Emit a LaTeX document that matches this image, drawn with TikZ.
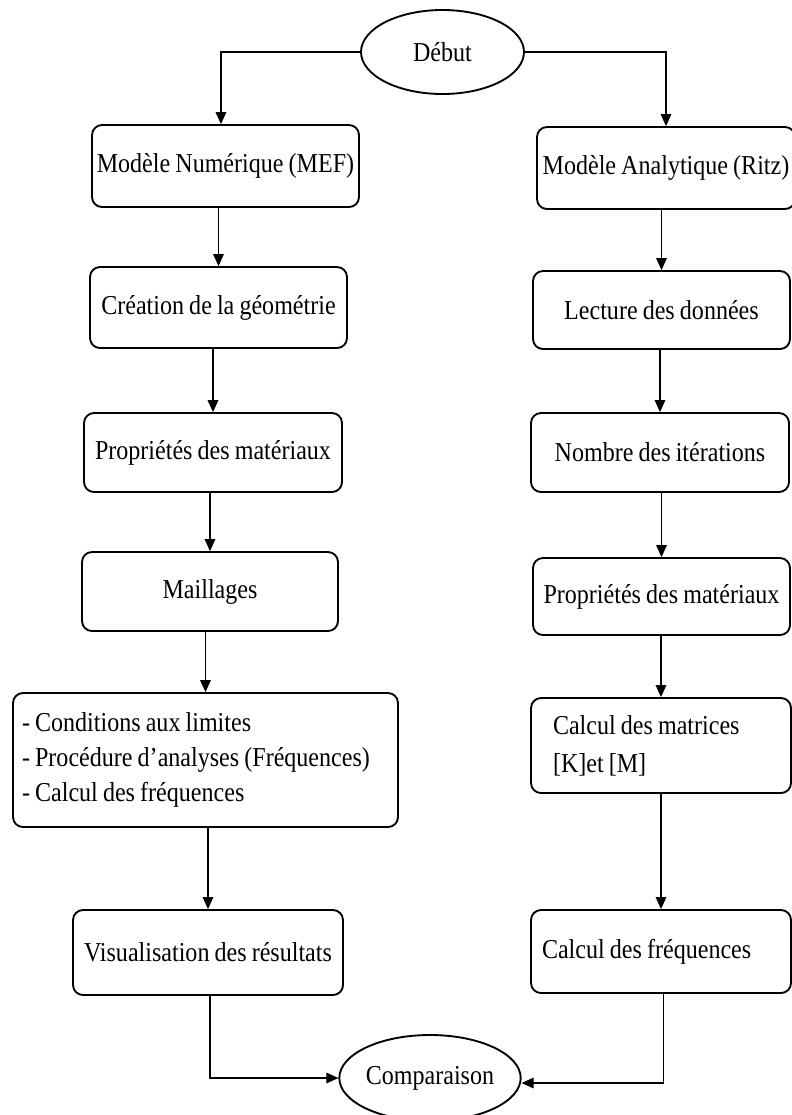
\documentclass[tikz,border=0pt]{standalone}
\usepackage{fontspec}
\setmainfont{Liberation Serif}[FakeStretch=0.88,WordSpace=0.85]
\usetikzlibrary{arrows.meta,shapes.geometric}
\begin{document}
\begin{tikzpicture}[x=0.75pt,y=-0.75pt,
  txt/.style={font=\fontsize{20.5pt}{24pt}\selectfont},
  box/.style={txt, draw, line width=1.4pt, rounded corners=7.5pt, inner sep=0pt, align=center},
  oval/.style={txt, draw, ellipse, line width=1.4pt, inner sep=0pt},
  arr/.style={line width=0.8pt, -{Triangle[length=9pt,width=8pt]}}]
\clip (0,0) rectangle (792,1115);
\fill[white] (0,0) rectangle (792,1115);
% start / end
\node[oval, minimum width=122.25pt, minimum height=63pt] (debut) at (442.5,52) {Début};
\node[oval, minimum width=124.5pt, minimum height=64.5pt] (comp) at (430,1078) {Comparaison};
% left column
\node[box, minimum width=200.25pt, minimum height=61.5pt] (mef) at (225.5,166) {Modèle Numérique (MEF)};
\node[box, minimum width=192.75pt, minimum height=60.75pt] (crea) at (218.5,307.5) {Création de la géométrie};
\node[box, minimum width=193.5pt, minimum height=59.25pt] (propl) at (213,452.5) {Propriétés des matériaux};
\node[box, minimum width=192pt, minimum height=59.25pt] (maill) at (210,591.5) {Maillages};
\node[box, align=flush left, font=\fontsize{20.5pt}{26.25pt}\selectfont, inner xsep=6.75pt, text width=275.25pt, minimum height=100.5pt] (cond) at (205.5,760)
  {- Conditions aux limites\\- Procédure d’analyses (Fréquences)\\- Calcul des fréquences};
\node[box, minimum width=202.5pt, minimum height=63.75pt] (visu) at (208,952.5) {Visualisation des résultats};
% right column
\node[box, minimum width=193.5pt, minimum height=61.5pt] (ritz) at (666,168) {Modèle Analytique (Ritz)};
\node[box, minimum width=192.75pt, minimum height=58.5pt] (lect) at (661.5,310) {Lecture des données};
\node[box, minimum width=193.5pt, minimum height=59.25pt] (nomb) at (660,452.5) {Nombre des itérations};
\node[box, minimum width=192.75pt, minimum height=57.75pt] (propr) at (661.5,596.5) {Propriétés des matériaux};
\node[box, align=flush left, font=\fontsize{20.5pt}{28.5pt}\selectfont, inner xsep=16.5pt, text width=162pt, minimum height=71.25pt] (mat) at (661,745.5)
  {Calcul des matrices\\{[K]}et [M]};
\node[box, align=flush left, inner xsep=8.25pt, text width=178.5pt, minimum height=62.25pt] (freq) at (661,951.5) {Calcul des fréquences};
% connectors
\draw[arr] (debut.west) -| ([xshift=-3.4pt]mef.north);
\draw[arr] (debut.east) -| (ritz.north);
\draw[arr] (crea.north |- mef.south) -- (crea.north);
\draw[arr] (propl.north |- crea.south) -- (propl.north);
\draw[arr] (maill.north |- propl.south) -- (maill.north);
\draw[arr] (cond.north |- maill.south) -- (cond.north);
\draw[arr] (visu.north |- cond.south) -- (visu.north);
\draw[arr] ([xshift=1.5pt]visu.south) |- (comp.west);
\draw[arr] (lect.north |- ritz.south) -- (lect.north);
\draw[arr] (nomb.north |- lect.south) -- (nomb.north);
\draw[arr] (propr.north |- nomb.south) -- (propr.north);
\draw[arr] (mat.north |- propr.south) -- (mat.north);
\draw[arr] (freq.north |- mat.south) -- (freq.north);
\draw[arr] ([xshift=2pt]freq.south) |- ([yshift=-3.75pt]comp.east);
\end{tikzpicture}
\end{document}
